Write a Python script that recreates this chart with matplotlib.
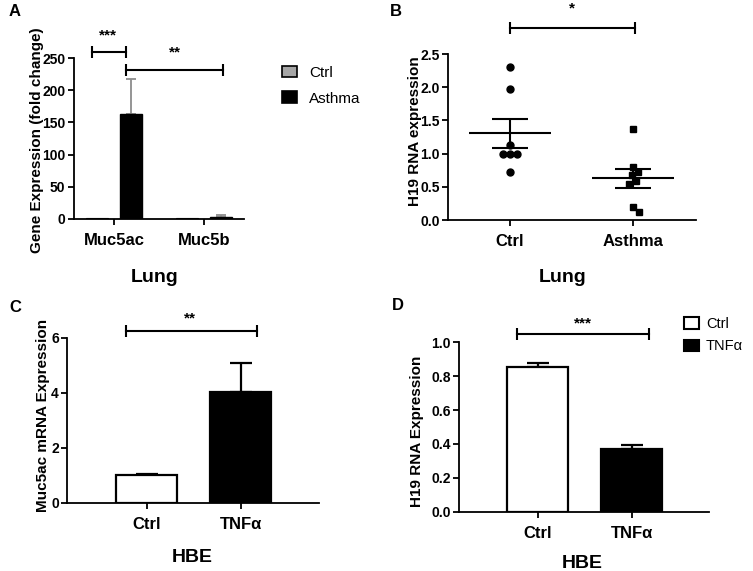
import numpy as np
import matplotlib
matplotlib.use('Agg')
from matplotlib import pyplot as plt

plt.rcParams['font.family'] = ['Liberation Sans', 'DejaVu Sans']

# panel A: lung gene expression
a_genes = ['Muc5ac', 'Muc5b']
a_ctrl = [1.0, 1.0]
a_ctrl_err = [0.2, 0.2]
a_asthma = [162.5, 3.8]
a_asthma_err = [54.5, 2.6]

# panel B: H19 in lung, individual samples
b_groups = ['Ctrl', 'Asthma']
b_ctrl = [2.30, 1.97, 1.13, 1.00, 1.00, 1.00, 0.73]
b_asthma = [1.37, 0.80, 0.72, 0.68, 0.59, 0.54, 0.19, 0.12]

# panel C: Muc5ac in HBE
c_groups = ['Ctrl', 'TNFα']
c_values = [1.0, 4.03]
c_err = [0.03, 1.06]

# panel D: H19 in HBE
d_groups = ['Ctrl', 'TNFα']
d_values = [0.856, 0.368]
d_err = [0.024, 0.024]

W, H = 753, 571
fig = plt.figure(figsize=(W / 100, H / 100), dpi=100)


def px_axes(left, top, right, bottom):
    return fig.add_axes([left / W, 1 - bottom / H, (right - left) / W, (bottom - top) / H])


def px_text(x, y, s, **kw):
    fig.text(x / W, 1 - y / H, s, **kw)


def prism_style(ax, cats):
    for side in ('top', 'right'):
        ax.spines[side].set_visible(False)
    for side in ('left', 'bottom'):
        ax.spines[side].set_linewidth(1.3)
    ax.tick_params(axis='both', direction='out', length=4, width=1.3)
    ax.tick_params(axis='y', labelsize=10, pad=2)
    ax.tick_params(axis='x', labelsize=12, pad=6)
    ax.set_xticks(range(len(cats)))
    ax.set_xticklabels(cats)
    for lab in ax.get_xticklabels() + ax.get_yticklabels():
        lab.set_fontweight('bold')


def bracket(ax, x0, x1, y, label, ty, tx):
    ax.plot([x0, x1], [y, y], color='black', lw=1.5, marker='|',
            markersize=9, markeredgewidth=1.5, clip_on=False)
    ax.text(tx, ty, label, ha='center', va='center', fontsize=11,
            fontweight='bold', clip_on=False)


def swarm(ax, x0, values, diam):
    trans = ax.transData
    placed = []
    xs = []
    cands = [0.0]
    for k in range(1, 60):
        cands += [k * 0.5, -k * 0.5]
    for v in values:
        px, py = trans.transform((x0, v))
        for dx in cands:
            cx = px + dx
            if all((cx - qx) ** 2 + (py - qy) ** 2 >= diam ** 2 for qx, qy in placed):
                break
        placed.append((cx, py))
        xs.append(trans.inverted().transform((cx, py))[0])
    return xs


# ---- A ----
axA = px_axes(73.5, 58, 244.3, 219)
xa = np.arange(len(a_genes))
axA.set_xlim(-0.453, 1.444)
axA.set_ylim(0, 250)
off, bw = 0.19, 0.245
axA.bar(xa - off, a_ctrl, bw, color='#a6a6a6', edgecolor='black', linewidth=0.8, zorder=2)
axA.bar(xa + off, a_asthma, bw, color='black', edgecolor='black', zorder=2)
axA.errorbar(xa + off, a_asthma, yerr=[np.zeros(2), a_asthma_err], fmt='none',
             ecolor='#8c8c8c', elinewidth=1.3, capsize=3.5, capthick=1.3, zorder=1)
axA.set_yticks([0, 50, 100, 150, 200, 250])
prism_style(axA, a_genes)
bracket(axA, -0.244, 0.13, 258.9, '***', 285, -0.07)
bracket(axA, 0.13, 1.204, 231.4, '**', 258, 0.67)
px_text(37, 140, 'Gene Expression (fold change)', rotation=90, ha='center', va='center',
        fontsize=11, fontweight='bold')
px_text(155, 277, 'Lung', ha='center', va='center', fontsize=14, fontweight='bold')
hA = [plt.Rectangle((0, 0), 1, 1, facecolor='#a6a6a6', edgecolor='black', lw=1.2),
      plt.Rectangle((0, 0), 1, 1, facecolor='black', edgecolor='black', lw=1.2)]
fig.legend(hA, ['Ctrl', 'Asthma'], loc='upper left', bbox_to_anchor=(268 / W, 1 - 52 / H),
           frameon=False, fontsize=11, handlelength=1.0, handleheight=0.8,
           handletextpad=0.8, labelspacing=0.75)

# ---- B ----
axB = px_axes(448, 54, 696, 220)
axB.set_xlim(-0.504, 1.512)
axB.set_ylim(0, 2.5)
axB.set_yticks([0, 0.5, 1.0, 1.5, 2.0, 2.5])
axB.yaxis.set_major_formatter(matplotlib.ticker.FormatStrFormatter('%.1f'))
prism_style(axB, b_groups)
for i, (vals, mk) in enumerate([(b_ctrl, 'o'), (b_asthma, 's')]):
    xs = swarm(axB, i, vals, 7.0)
    axB.plot(xs, vals, linestyle='none', marker=mk, markersize=5 if mk == 'o' else 4.6,
             color='black', clip_on=False, zorder=3)
    m = np.mean(vals)
    sem = np.std(vals, ddof=1) / np.sqrt(len(vals))
    axB.hlines(m, i - 0.33, i + 0.33, color='black', lw=1.5, zorder=4)
    axB.errorbar([i], [m], yerr=[sem], fmt='none', ecolor='black', elinewidth=1.5,
                 capsize=13, capthick=1.5, zorder=4)
bracket(axB, 0.0, 1.02, 2.89, '*', 3.19, 0.5)
px_text(415, 131, 'H19 RNA expression', rotation=90, ha='center', va='center',
        fontsize=11, fontweight='bold')
px_text(563, 277, 'Lung', ha='center', va='center', fontsize=14, fontweight='bold')

# ---- C ----
axC = px_axes(67.3, 337.7, 319.3, 502.7)
axC.set_xlim(-0.848, 1.836)
axC.set_ylim(0, 6)
xc = np.arange(len(c_groups))
axC.bar(xc, c_values, 0.65, color=['white', 'black'], edgecolor='black', linewidth=1.6, zorder=2)
axC.errorbar(xc, c_values, yerr=[np.zeros(2), c_err], fmt='none', ecolor='black',
             elinewidth=1.6, capsize=8, capthick=1.6, zorder=1)
axC.set_yticks([0, 2, 4, 6])
prism_style(axC, c_groups)
bracket(axC, -0.223, 1.17, 6.25, '**', 6.7, 0.457)
px_text(43, 415, 'Muc5ac mRNA Expression', rotation=90, ha='center', va='center',
        fontsize=11, fontweight='bold')
px_text(192, 558, 'HBE', ha='center', va='center', fontsize=14, fontweight='bold')

# ---- D ----
axD = px_axes(459, 342.3, 709.3, 511.7)
axD.set_xlim(-0.837, 1.824)
axD.set_ylim(0, 1.0)
xd = np.arange(len(d_groups))
axD.bar(xd, d_values, 0.65, color=['white', 'black'], edgecolor='black', linewidth=1.6, zorder=2)
axD.errorbar(xd, d_values, yerr=[np.zeros(2), d_err], fmt='none', ecolor='black',
             elinewidth=1.6, capsize=8, capthick=1.6, zorder=1)
axD.set_yticks([0, 0.2, 0.4, 0.6, 0.8, 1.0])
axD.yaxis.set_major_formatter(matplotlib.ticker.FormatStrFormatter('%.1f'))
prism_style(axD, d_groups)
bracket(axD, -0.223, 1.187, 1.047, '***', 1.112, 0.486)
px_text(417, 431, 'H19 RNA Expression', rotation=90, ha='center', va='center',
        fontsize=11, fontweight='bold')
px_text(582, 563, 'HBE', ha='center', va='center', fontsize=14, fontweight='bold')
hD = [plt.Rectangle((0, 0), 1, 1, facecolor='white', edgecolor='black', lw=1.5),
      plt.Rectangle((0, 0), 1, 1, facecolor='black', edgecolor='black', lw=1.5)]
fig.legend(hD, ['Ctrl', 'TNFα'], loc='upper left', bbox_to_anchor=(671 / W, 1 - 304 / H),
           frameon=False, fontsize=10.5, handlelength=1.0, handleheight=0.8,
           handletextpad=0.5, labelspacing=0.55)

# panel letters
for x, y, s in [(9, 12, 'A'), (390, 12, 'B'), (9, 307, 'C'), (392, 305, 'D')]:
    px_text(x, y, s, ha='left', va='center', fontsize=12, fontweight='bold')

fig.savefig('out.png', dpi=100)
